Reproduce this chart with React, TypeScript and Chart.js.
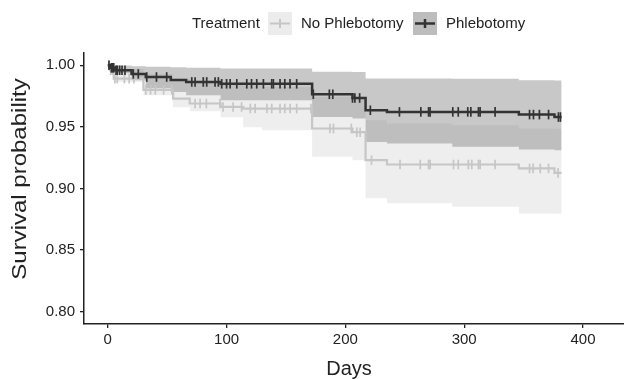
import React, { useEffect, useRef } from "react";
import { Chart, registerables } from "chart.js";

Chart.register(...registerables);

// ---- Data ----
const groups = ["No Phlebotomy", "Phlebotomy"];
const legendTitle = "Treatment";
const xTitle = "Days";
const yTitle = "Survival probability";
const xTicks = [0, 100, 200, 300, 400];
const yTicks = [0.8, 0.85, 0.9, 0.95, 1.0];

// Phlebotomy (dark)
const darkTimes = [0, 2, 6, 20, 32, 53, 66, 95, 172, 206, 217, 235, 346, 376, 382];
const darkSurv = [1.0, 0.998, 0.996, 0.993, 0.9905, 0.988, 0.9865, 0.985, 0.9765, 0.9735, 0.9635, 0.9622, 0.96, 0.958, 0.958];
const darkCiTimes = [0, 2, 6, 20, 32, 53, 66, 95, 172, 206, 217, 235, 290, 346, 376, 382];
const darkUpper = [1.0, 1.0, 0.9998, 0.9992, 0.9988, 0.9984, 0.998, 0.9975, 0.9948, 0.9945, 0.9892, 0.9892, 0.989, 0.9878, 0.9876, 0.9876];
const darkLower = [0.998, 0.995, 0.9935, 0.9878, 0.9814, 0.9784, 0.9757, 0.9716, 0.958, 0.9568, 0.9378, 0.9365, 0.9338, 0.9317, 0.931, 0.931];
const darkCensor = [1, 3, 4, 5, 7, 8, 10, 12, 14.5, 21.5, 25.7, 32.8, 41, 49.6, 70.7, 73.5, 80.4, 83.3, 90.3, 93.1, 95.9, 100, 103, 108.6, 117, 121, 125.4, 131, 138, 139.4, 145, 149, 153.4, 159, 173, 186.5, 189.4, 206, 208, 212, 221, 245.5, 263.5, 270, 271.3, 290.4, 295, 303, 305.6, 312, 313.4, 326, 355, 358.3, 363.3, 371, 379.3, 381];

// No Phlebotomy (light)
const lightTimes = [0, 2, 5, 30, 55, 69, 95, 114, 172, 206, 217, 235, 346, 376, 382];
const lightSurv = [1.0, 0.996, 0.9892, 0.98, 0.973, 0.969, 0.9662, 0.9649, 0.9487, 0.9457, 0.923, 0.9195, 0.9163, 0.9127, 0.9127];
const lightCiTimes = [0, 2, 5, 30, 55, 69, 95, 114, 130, 172, 206, 217, 235, 290, 346, 376, 382];
const lightUpper = [1.0, 0.999, 0.997, 0.993, 0.989, 0.987, 0.985, 0.9835, 0.9824, 0.9743, 0.973, 0.9554, 0.9528, 0.9514, 0.9487, 0.9485, 0.9485];
const lightLower = [0.998, 0.9935, 0.9865, 0.9757, 0.966, 0.9627, 0.9579, 0.9498, 0.9473, 0.9257, 0.923, 0.892, 0.888, 0.8852, 0.8798, 0.8795, 0.8795];
const lightCensor = [1, 2.5, 4, 6, 8, 14, 18, 22, 32, 36, 40, 47, 54, 73.5, 77.7, 83, 94.5, 97, 105.5, 112.6, 120, 124, 134, 138, 145, 149, 153.5, 159, 171, 187, 190, 205, 209.6, 212.4, 222, 246, 263, 270, 271.3, 291, 295, 303.5, 306.4, 312, 313.4, 326, 355, 358, 364, 371, 379];

const FONT = '"Liberation Sans", Arial, sans-serif';
const DARK = "#333333";
const LIGHT = "#c6c6c6";

function pts(xs: number[], ys: number[]) {
  return xs.map((x, i) => ({ x, y: ys[i] }));
}
function survAt(times: number[], surv: number[], t: number) {
  let v = surv[0];
  for (let i = 0; i < times.length; i++) if (times[i] <= t) v = surv[i];
  return v;
}
function censorPts(c: number[], times: number[], surv: number[]) {
  return c.map((t) => ({ x: t, y: survAt(times, surv, t) }));
}

const decorPlugin = {
  id: "decor",
  afterDraw(chart: any) {
    const ctx = chart.ctx as CanvasRenderingContext2D;
    ctx.save();
    ctx.fillStyle = "#222";
    ctx.textBaseline = "middle";
    // legend
    ctx.font = `15px ${FONT}`;
    ctx.textAlign = "left";
    ctx.fillText(legendTitle, 192, 24);
    ctx.fillStyle = "#ececec";
    ctx.fillRect(268, 12, 24, 23);
    ctx.strokeStyle = LIGHT;
    ctx.lineWidth = 2;
    ctx.beginPath();
    ctx.moveTo(270, 23.5); ctx.lineTo(290, 23.5);
    ctx.moveTo(280, 19); ctx.lineTo(280, 28);
    ctx.stroke();
    ctx.fillStyle = "#222";
    ctx.fillText(groups[0], 301, 24);
    ctx.fillStyle = "#bdbdbd";
    ctx.fillRect(413, 12, 24, 23);
    ctx.strokeStyle = DARK;
    ctx.lineWidth = 2.5;
    ctx.beginPath();
    ctx.moveTo(415, 23.5); ctx.lineTo(435, 23.5);
    ctx.moveTo(425, 19); ctx.lineTo(425, 28);
    ctx.stroke();
    ctx.fillStyle = "#222";
    ctx.fillText(groups[1], 446, 24);
    // axis titles
    ctx.font = `20px ${FONT}`;
    ctx.textAlign = "center";
    ctx.fillText(xTitle, 349, 369);
    ctx.translate(20, 179);
    ctx.rotate(-Math.PI / 2);
    ctx.scale(1.2, 1);
    ctx.fillText(yTitle, 0, 0);
    ctx.restore();
  },
};

export default function App() {
  const ref = useRef<HTMLCanvasElement>(null);
  useEffect(() => {
    document.body.style.margin = "0";
    const canvas = ref.current!;
    const chart = new Chart(canvas, {
      type: "line",
      data: {
        datasets: [
          {
            label: "Phlebotomy",
            data: pts(darkTimes, darkSurv),
            stepped: true,
            borderColor: DARK,
            borderWidth: 2.5,
            pointRadius: 0,
            fill: false,
            order: 0,
          },
          {
            label: "Phlebotomy censor",
            data: censorPts(darkCensor, darkTimes, darkSurv),
            showLine: false,
            pointStyle: "line",
            rotation: 90,
            pointRadius: 4.8,
            pointBorderWidth: 1.7,
            borderColor: DARK,
            pointBorderColor: DARK,
            order: 0,
          },
          {
            label: "No Phlebotomy",
            data: pts(lightTimes, lightSurv),
            stepped: true,
            borderColor: LIGHT,
            borderWidth: 2.2,
            pointRadius: 0,
            fill: false,
            order: 1,
          },
          {
            label: "No Phlebotomy censor",
            data: censorPts(lightCensor, lightTimes, lightSurv),
            showLine: false,
            pointStyle: "line",
            rotation: 90,
            pointRadius: 4.8,
            pointBorderWidth: 1.7,
            borderColor: LIGHT,
            pointBorderColor: LIGHT,
            order: 1,
          },
          {
            label: "Phlebotomy upper",
            data: pts(darkCiTimes, darkUpper),
            stepped: true,
            borderWidth: 0,
            borderColor: "rgba(0,0,0,0)",
            backgroundColor: "rgba(121,121,121,0.41)",
            pointRadius: 0,
            fill: "+1",
            order: 2,
          },
          {
            label: "Phlebotomy lower",
            data: pts(darkCiTimes, darkLower),
            stepped: true,
            borderWidth: 0,
            borderColor: "rgba(0,0,0,0)",
            pointRadius: 0,
            fill: false,
            order: 2,
          },
          {
            label: "No Phlebotomy upper",
            data: pts(lightCiTimes, lightUpper),
            stepped: true,
            borderWidth: 0,
            borderColor: "rgba(0,0,0,0)",
            backgroundColor: "#eeeeee",
            pointRadius: 0,
            fill: "+1",
            order: 3,
          },
          {
            label: "No Phlebotomy lower",
            data: pts(lightCiTimes, lightLower),
            stepped: true,
            borderWidth: 0,
            borderColor: "rgba(0,0,0,0)",
            pointRadius: 0,
            fill: false,
            order: 3,
          },
        ],
      },
      options: {
        animation: false,
        responsive: false,
        devicePixelRatio: 1,
        layout: { autoPadding: false, padding: { left: 0, right: 0, top: 53, bottom: 0 } },
        plugins: { legend: { display: false }, tooltip: { enabled: false } },
        scales: {
          x: {
            type: "linear",
            min: -20,
            max: 434.5,
            afterFit: (s: any) => { s.height = 55; s.paddingLeft = 0; s.paddingRight = 0; },
            afterBuildTicks: (s: any) => { s.ticks = xTicks.map((v) => ({ value: v })); },
            grid: { display: true, drawOnChartArea: false, drawTicks: true, tickLength: 4, color: "#222", lineWidth: 1.3 },
            border: { display: true, color: "#222", width: 1.5 },
            ticks: { color: "#222", font: { family: FONT, size: 15 }, padding: 3, maxRotation: 0, callback: (v: any) => String(v) },
          },
          y: {
            type: "linear",
            min: 0.79,
            max: 1.01,
            afterFit: (s: any) => { s.width = 84; s.paddingTop = 0; s.paddingBottom = 0; },
            afterBuildTicks: (s: any) => { s.ticks = yTicks.map((v) => ({ value: v })); },
            grid: { display: true, drawOnChartArea: false, drawTicks: true, tickLength: 4, color: "#222", lineWidth: 1.3 },
            border: { display: true, color: "#222", width: 1.5 },
            ticks: { color: "#222", font: { family: FONT, size: 15 }, padding: 5, callback: (v: any) => Number(v).toFixed(2) },
          },
        },
      },
      plugins: [decorPlugin],
    });
    return () => chart.destroy();
  }, []);
  return (
    <div style={{ width: 624, height: 379 }}>
      <canvas ref={ref} width={624} height={379} style={{ width: 624, height: 379, display: "block" }} />
    </div>
  );
}
